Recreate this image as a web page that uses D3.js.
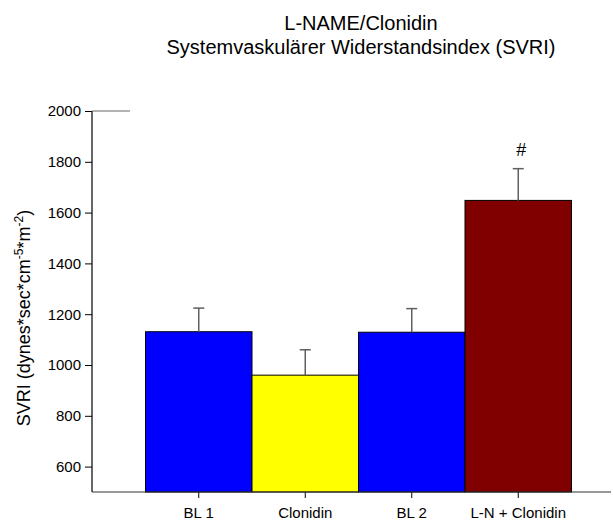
<!DOCTYPE html>
<html>
<head>
<meta charset="utf-8">
<script src="https://cdn.jsdelivr.net/npm/d3@7"></script>
<style>
  html, body { margin: 0; padding: 0; background: #fff; }
  svg { display: block; font-family: "Liberation Sans", Arial, sans-serif; }
</style>
</head>
<body>
<div id="chart"></div>
<script>
// values
const categories = ['BL 1', 'Clonidin', 'BL 2', 'L-N + Clonidin'];
const means = [1131, 960, 1129, 1648];
const errors = [93, 100, 93, 125];
const barColors = ['#0000ff', '#ffff00', '#0000ff', '#800000'];
const yTicks = [600, 800, 1000, 1200, 1400, 1600, 1800, 2000];
const marks = ['', '', '', '#'];

const width = 613, height = 521;
const plot = { left: 92, right: 611, top: 111, bottom: 492 };
const font = '"Liberation Sans", Arial, sans-serif';

const svg = d3.select('#chart').append('svg')
    .attr('width', width)
    .attr('height', height);

const y = d3.scaleLinear()
    .domain([500, 2000])
    .range([plot.bottom, plot.top]);

const x = d3.scaleBand()
    .domain(categories)
    .range([145.5, 571.5])
    .paddingInner(0)
    .paddingOuter(0);

const data = categories.map((c, i) => ({ cat: c, mean: means[i], err: errors[i], color: barColors[i], mark: marks[i] }));

// Title
const title = svg.append('text')
    .attr('text-anchor', 'middle')
    .style('font-size', '20px')
    .attr('fill', '#000');
title.append('tspan').attr('x', 361).attr('y', 30).text('L-NAME/Clonidin');
title.append('tspan').attr('x', 361).attr('y', 54).text('Systemvaskulärer Widerstandsindex (SVRI)');

// Bars
svg.append('g').selectAll('rect')
    .data(data)
    .join('rect')
    .attr('x', d => x(d.cat))
    .attr('y', d => y(d.mean))
    .attr('width', x.bandwidth())
    .attr('height', d => y(500) - y(d.mean))
    .attr('fill', d => d.color)
    .attr('stroke', '#000')
    .attr('stroke-width', 1);

// Error bars (upper only)
const eb = svg.append('g').attr('stroke', '#606060').attr('stroke-width', 1.5);
data.forEach(d => {
    const cx = x(d.cat) + x.bandwidth() / 2;
    eb.append('line')
        .attr('x1', cx).attr('x2', cx)
        .attr('y1', y(d.mean)).attr('y2', y(d.mean + d.err));
    eb.append('line')
        .attr('x1', cx - 5.5).attr('x2', cx + 5.5)
        .attr('y1', y(d.mean + d.err)).attr('y2', y(d.mean + d.err));
});

// Significance marks
svg.append('g').selectAll('text')
    .data(data.filter(d => d.mark))
    .join('text')
    .attr('x', d => x(d.cat) + x.bandwidth() / 2 + 3)
    .attr('y', d => y(d.mean + d.err) - 13)
    .attr('text-anchor', 'middle')
    .style('font-size', '18px')
    .text(d => d.mark);

// Y axis
const yAxis = d3.axisLeft(y).tickValues(yTicks).tickFormat(d3.format('d'))
    .tickSize(7).tickPadding(4).tickSizeOuter(0);
svg.append('g')
    .attr('transform', `translate(${plot.left},0)`)
    .attr('font-size', null)
    .attr('font-family', null)
    .call(yAxis)
    .call(g => g.select('.domain').remove())
    .call(g => g.selectAll('.tick line').attr('stroke', '#000'))
    .call(g => g.selectAll('.tick text')
        .attr('fill', '#000')
        .style('font-size', '15px')
        .style('font-family', font));
svg.append('line')
    .attr('x1', plot.left).attr('x2', plot.left)
    .attr('y1', y(2000)).attr('y2', y(500))
    .attr('stroke', '#000').attr('stroke-width', 1.2);
svg.append('line')
    .attr('x1', plot.left).attr('x2', plot.left + 38)
    .attr('y1', y(2000)).attr('y2', y(2000))
    .attr('stroke', '#666').attr('stroke-width', 1);

// X axis
const xAxis = d3.axisBottom(x).tickSize(6).tickPadding(9).tickSizeOuter(0);
svg.append('g')
    .attr('transform', `translate(0,${plot.bottom})`)
    .call(xAxis)
    .call(g => g.select('.domain').remove())
    .call(g => g.selectAll('.tick line').attr('stroke', '#000'))
    .call(g => g.selectAll('.tick text')
        .attr('fill', '#000')
        .style('font-size', '15px')
        .style('font-family', font));
svg.append('line')
    .attr('x1', plot.left).attr('x2', plot.right)
    .attr('y1', plot.bottom).attr('y2', plot.bottom)
    .attr('stroke', '#333').attr('stroke-width', 1.2);

// Y label
const yl = svg.append('text')
    .attr('transform', 'translate(30,318) rotate(-90)')
    .attr('text-anchor', 'middle')
    .style('font-size', '18px')
    .attr('fill', '#000');
yl.append('tspan').text('SVRI (dynes*sec*cm');
yl.append('tspan').attr('dy', -7).style('font-size', '12px').text('-5');
yl.append('tspan').attr('dy', 7).text('*m');
yl.append('tspan').attr('dy', -7).style('font-size', '12px').text('-2');
yl.append('tspan').attr('dy', 7).text(')');
</script>
</body>
</html>
